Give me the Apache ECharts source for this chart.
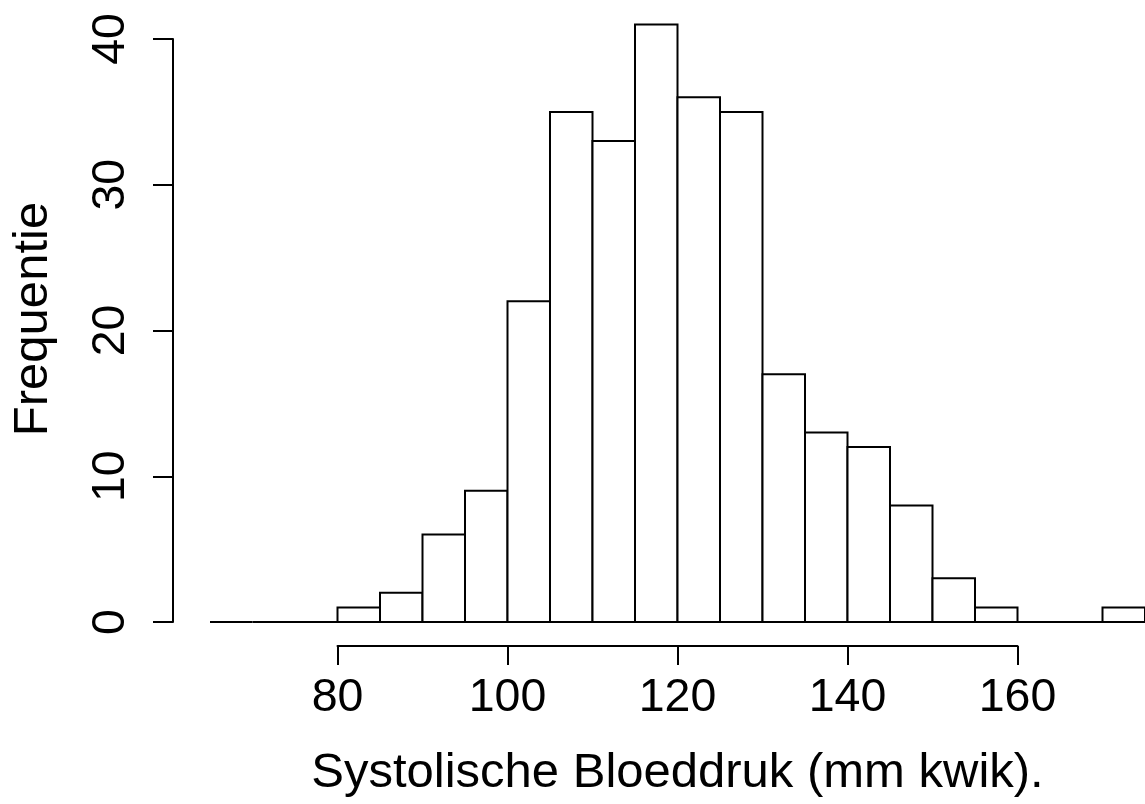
<!DOCTYPE html>
<html>
<head>
<meta charset="utf-8">
<script src="https://cdn.jsdelivr.net/npm/echarts@6/dist/echarts.min.js"></script>
<style>
html,body{margin:0;padding:0;background:#fff;}
#chart{width:1145px;height:804px;}
</style>
</head>
<body>
<div id="chart"></div>
<script>
// Histogram bins (lower edge, upper edge) and frequencies
const binLower = [65, 70, 75, 80, 85, 90, 95, 100, 105, 110, 115, 120, 125, 130, 135, 140, 145, 150, 155, 160, 165, 170];
const binUpper = [70, 75, 80, 85, 90, 95, 100, 105, 110, 115, 120, 125, 130, 135, 140, 145, 150, 155, 160, 165, 170, 175];
const counts   = [0, 0, 0, 1, 2, 6, 9, 22, 35, 33, 41, 36, 35, 17, 13, 12, 8, 3, 1, 0, 0, 1];
const xTicks = [80, 100, 120, 140, 160];
const yTicks = [0, 10, 20, 30, 40];
const xTitle = 'Systolische Bloeddruk (mm kwik).';
const yTitle = 'Frequentie';

const FONT = '"Liberation Sans", Arial, Helvetica, sans-serif';
const data = binLower.map((lo, i) => [lo, binUpper[i], counts[i]]);

const chart = echarts.init(document.getElementById('chart'), null, {renderer: 'canvas'});
chart.setOption({
  animation: false,
  backgroundColor: '#ffffff',
  grid: [
    {left: 210, width: 935, top: 39, height: 583},
    {left: 337.5, width: 680, top: 600, height: 46}
  ],
  xAxis: [
    {gridIndex: 0, type: 'value', min: 65, max: 175, show: false},
    {gridIndex: 1, type: 'value', min: 80, max: 160, interval: 20, position: 'bottom',
     axisLine: {show: true, lineStyle: {color: '#000', width: 2}},
     axisTick: {show: true, inside: false, length: 19, lineStyle: {color: '#000', width: 2}},
     axisLabel: {show: true, color: '#000', fontSize: 46.5, fontFamily: FONT, margin: 29,
                 formatter: v => xTicks.includes(v) ? String(v) : ''},
     splitLine: {show: false},
     name: xTitle, nameLocation: 'middle', nameGap: 103,
     nameTextStyle: {color: '#000', fontSize: 49, fontFamily: FONT}}
  ],
  yAxis: [
    {gridIndex: 0, type: 'value', min: 0, max: 40, interval: 10, position: 'left', offset: 37,
     axisLine: {show: true, lineStyle: {color: '#000', width: 2}},
     axisTick: {show: true, inside: false, length: 20, lineStyle: {color: '#000', width: 2}},
     axisLabel: {show: true, color: '#000', fontSize: 46.5, fontFamily: FONT, margin: 38, rotate: 90,
                 formatter: v => yTicks.includes(v) ? String(v) : ''},
     splitLine: {show: false}},
    {gridIndex: 1, type: 'value', show: false}
  ],
  graphic: [{
    type: 'text', x: 33, y: 319, rotation: Math.PI / 2,
    style: {text: yTitle, fill: '#000', font: '49px ' + FONT, align: 'center', verticalAlign: 'middle'}
  }],
  series: [{
    type: 'custom',
    xAxisIndex: 0, yAxisIndex: 0,
    clip: false,
    data: data,
    renderItem: function (params, api) {
      const p0 = api.coord([api.value(0), 0]);
      const p1 = api.coord([api.value(1), api.value(2)]);
      return {
        type: 'rect',
        shape: {x: p0[0], y: p1[1], width: p1[0] - p0[0], height: p0[1] - p1[1]},
        style: {fill: '#ffffff', stroke: '#000000', lineWidth: 2}
      };
    }
  }]
});
</script>
</body>
</html>
